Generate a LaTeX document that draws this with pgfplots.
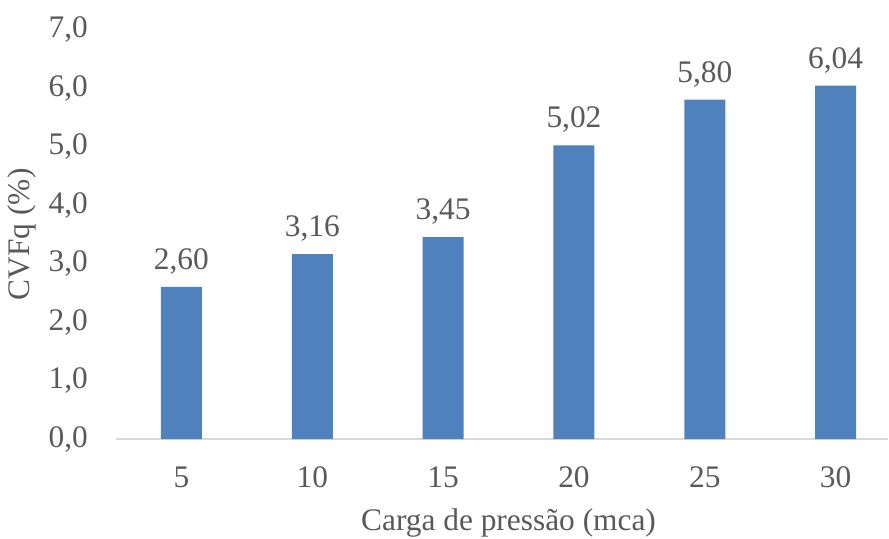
\documentclass[border=0pt]{standalone}
\usepackage{fontspec}
\setmainfont{Liberation Serif}
\usepackage{pgfplots}
\pgfplotsset{compat=1.18}
\definecolor{barblue}{HTML}{4F81BD}
\definecolor{txtgray}{HTML}{595959}
\definecolor{axgray}{HTML}{D9D9D9}
\newcommand{\chfont}{\fontsize{31.5}{36}\selectfont}
\begin{document}
\begin{tikzpicture}
\begin{axis}[
  scale only axis,
  width=772bp, height=409.5bp,
  xmin=-0.5, xmax=5.4,
  ymin=0, ymax=7,
  ytick={0,1,2,3,4,5,6,7},
  xtick=data,
  xticklabels={5,10,15,20,25,30},
  axis x line*=bottom,
  axis y line*=left,
  y axis line style={draw=none},
  x axis line style={draw=axgray, line width=1.3bp, -},
  major tick length=0pt,
  every tick label/.append style={font=\chfont, text=txtgray, inner sep=0pt},
  yticklabel style={anchor=base east, xshift=-28bp, yshift=-8bp,
    /pgf/number format/fixed, /pgf/number format/fixed zerofill,
    /pgf/number format/precision=1, /pgf/number format/use comma,
    /pgf/number format/assume math mode=true},
  xticklabel style={anchor=base, yshift=-48bp},
  xlabel={Carga de pressão (mca)},
  ylabel={CVFq (\%)},
  label style={font=\chfont, text=txtgray},
  xlabel style={at={(axis cs:2.5,0)}, anchor=base, yshift=-91bp},
  ylabel style={at={(rel axis cs:0,0.5)}, anchor=center, yshift=94bp},
  ybar, bar width=41bp,
  nodes near coords,
  nodes near coords style={font=\chfont, text=txtgray, yshift=9bp,
    /pgf/number format/fixed, /pgf/number format/fixed zerofill,
    /pgf/number format/precision=2, /pgf/number format/use comma,
    /pgf/number format/assume math mode=true},
  clip=false,
]
\addplot[fill=barblue, draw=none] coordinates {(0,2.60) (1,3.16) (2,3.45) (3,5.02) (4,5.80) (5,6.04)};
\coordinate (ll) at (rel axis cs:0,0);
\end{axis}
\pgfresetboundingbox
\path ([shift={(-116bp,-100bp)}]ll) rectangle ([shift={(773bp,439bp)}]ll);
\end{tikzpicture}
\end{document}
